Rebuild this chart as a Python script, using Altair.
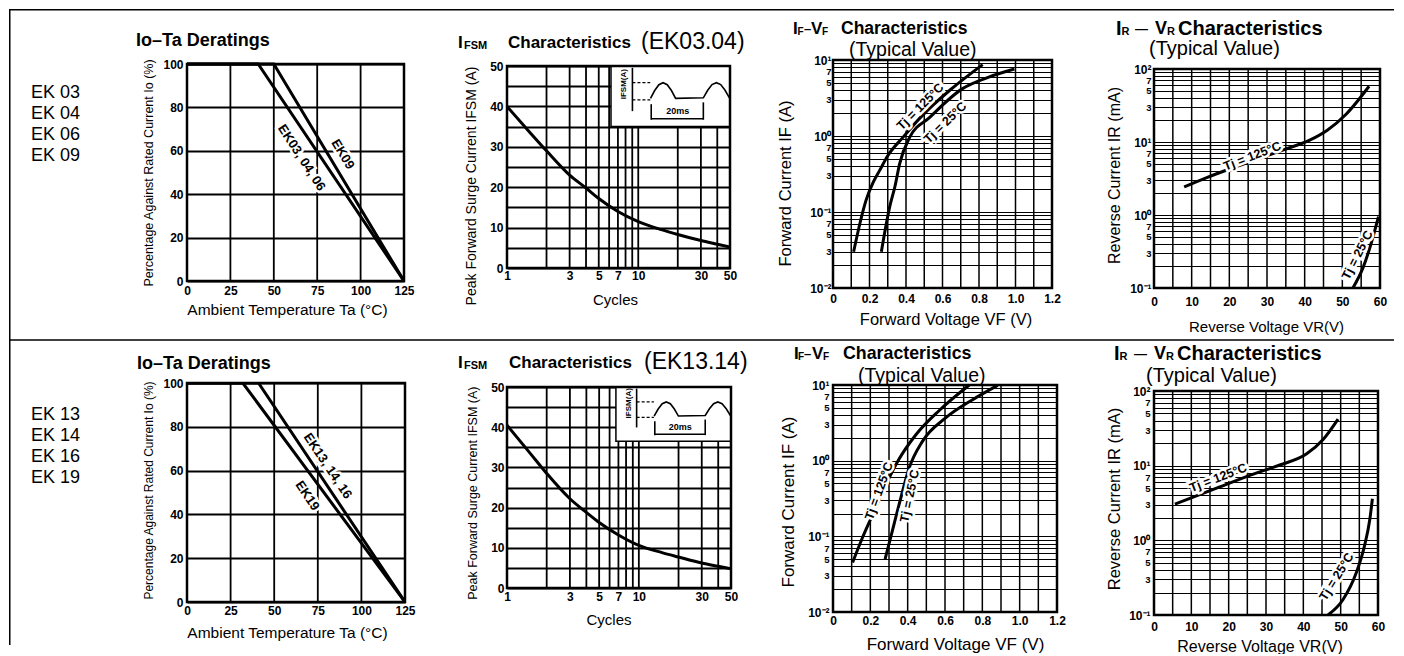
import math
import altair as alt
import pandas as pd

FONT = "Liberation Sans"
ORIGIN = 8           # page pixel where the chart's own (0, 0) lands
DUMMY = pd.DataFrame({"d": [0]})

# ---------------- data ----------------
row1_models = ["EK 03", "EK 04", "EK 06", "EK 09"]
row2_models = ["EK 13", "EK 14", "EK 16", "EK 19"]

# Io - Ta deratings (ambient temperature degC, percentage of rated current)
der1_ek03_ta = [0, 41, 125]
der1_ek03_io = [100, 100, 0]
der1_ek09_ta = [0, 50, 125]
der1_ek09_io = [100, 100, 0]
der2_ek13_ta = [0, 41, 125]
der2_ek13_io = [100, 100, 0]
der2_ek19_ta = [0, 32, 125]
der2_ek19_io = [100, 100, 0]

# IFSM characteristics (cycles, amps)
ifsm_cycles = [1, 1.5, 2, 3, 4, 5, 7, 10, 15, 20, 30, 40, 50]
ifsm1_amps = [40, 33.5, 29, 23, 19.8, 17.2, 14, 11.5, 9.5, 8.3, 6.8, 5.9, 5.2]
ifsm2_amps = [40.5, 33.5, 28.5, 22.2, 18.8, 16.3, 13.2, 10.6, 8.8, 7.7, 6.2, 5.4, 4.8]

# IF - VF (volts, amps)
ifvf1_t125_vf = [0.113, 0.15, 0.18, 0.22, 0.255, 0.3, 0.383, 0.49, 0.64, 0.82]
ifvf1_t125_if = [0.03, 0.075, 0.14, 0.245, 0.35, 0.55, 0.96, 1.87, 4.0, 8.7]
ifvf1_t25_vf = [0.265, 0.29, 0.31, 0.34, 0.365, 0.42, 0.53, 0.71, 0.85, 0.994]
ifvf1_t25_if = [0.03, 0.066, 0.115, 0.22, 0.43, 0.96, 1.76, 4.2, 5.9, 7.6]
ifvf2_t125_vf = [0.105, 0.157, 0.211, 0.283, 0.354, 0.444, 0.569, 0.73]
ifvf2_t125_if = [0.045, 0.095, 0.19, 0.48, 1.05, 2.2, 4.6, 10]
ifvf2_t25_vf = [0.279, 0.318, 0.363, 0.408, 0.479, 0.605, 0.748, 0.882]
ifvf2_t25_if = [0.05, 0.118, 0.32, 0.8, 1.8, 3.7, 6.4, 9.9]

# IR - VR (volts, mA)
irvr1_t125_vr = [8, 14, 20.8, 27, 34, 41.2, 46, 51, 57.1]
irvr1_t125_ir = [2.42, 3.25, 4.4, 5.7, 7.7, 10.5, 14.5, 24, 58]
irvr1_t25_vr = [52.8, 55.5, 57.6, 59.6]
irvr1_t25_ir = [0.1, 0.19, 0.4, 0.95]
irvr2_t125_vr = [5.6, 15.9, 26.6, 33.7, 40.8, 45.3, 49.3]
irvr2_t125_ir = [3.05, 4.8, 7.7, 10.2, 14.3, 22.4, 42]
irvr2_t25_vr = [46.6, 50.6, 54.2, 56.4, 57.8, 58.5]
irvr2_t25_ir = [0.1, 0.16, 0.37, 0.85, 1.9, 3.6]

# waveform sketch boxes in the IFSM charts (cycles from/to, amps from/to)
sketch_box1 = [6.2, 50, 35, 50]
sketch_box2 = [6.7, 50, 36.5, 50]
sketch_hump = [0, 0.5, 0.87, 1.0, 0.87, 0.5, 0]

# ---------------- layout (page pixels: left, top, width, height of plot areas) ----------------
GEOM = {
    "P1": (186, 63, 217, 217), "P2": (506, 65, 223, 202),
    "P3": (832, 59, 219, 228), "P4": (1153, 68, 226, 219),
    "Q1": (186, 382, 218, 219), "Q2": (506, 386, 224, 201),
    "Q3": (832, 384, 224, 227), "Q4": (1153, 390, 224, 224),
}
ROW1_TOP = 59
ROW2_TOP = 382
ROW1_H = max(GEOM[k][1] - ROW1_TOP + GEOM[k][3] for k in ("P1", "P2", "P3", "P4"))
SEPARATOR_Y = 339

SUP = str.maketrans("-0123456789", "⁻⁰¹²³⁴⁵⁶⁷⁸⁹")


def clean(v):
    v = round(v, 6)
    return int(v) if float(v).is_integer() else v


def js_num(v):
    return str(int(v)) if float(v).is_integer() else repr(float(v))


def log_ticks(e0, e1):
    vals, labs, decs = [], [], []
    for e in range(e0, e1):
        for m in range(1, 10):
            v = clean(m * 10.0 ** e)
            vals.append(v)
            if m == 1:
                labs.append("10" + str(e).translate(SUP))
                decs.append(v)
            elif m in (3, 5, 7):
                labs.append(str(m))
            else:
                labs.append("")
    v = clean(10.0 ** e1)
    vals.append(v)
    labs.append("10" + str(e1).translate(SUP))
    decs.append(v)
    return vals, labs, decs


def make_axis(kind, values, labels, title, tpos, tsize, lpad, lsize, gwidth, decades=None, small=None):
    vjs = "[" + ",".join(js_num(v) for v in values) + "]"
    ljs = "[" + ",".join("'" + s + "'" for s in labels) + "]"
    if decades:
        lfs = {"condition": {"test": "indexof([" + ",".join(js_num(v) for v in decades) + "], datum.value) >= 0",
                             "value": lsize}, "value": small}
    else:
        lfs = lsize
    return dict(values=values, labelExpr=f"{ljs}[indexof({vjs}, datum.value)]",
                title=title, titleX=tpos[0], titleY=tpos[1],
                titleAngle=0 if kind == "x" else 270, titleAlign="center", titleBaseline="middle",
                titleFont=FONT, titleFontSize=tsize, titleFontWeight="normal", titleColor="black",
                labelFont=FONT, labelFontSize=lfs, labelFontWeight="bold", labelColor="black",
                labelPadding=lpad, labelOverlap=False, labelFlush=False,
                ticks=False, domain=False, grid=(kind == "y"), gridColor="black", gridOpacity=1,
                gridWidth=gwidth)


def sketch_layers(box, X, Y):
    x0, x1, y0, y1 = box
    L0, L1 = math.log10(x0), math.log10(x1)

    def pt(u, v):
        return 10 ** (L0 + u * (L1 - L0)), y1 - v * (y1 - y0)

    out = []
    rect = pd.DataFrame({"x": [x0], "x2": [x1], "y": [y0], "y2": [y1]})
    out.append(alt.Chart(rect).mark_rect(fill="white", stroke="black", strokeWidth=1.5)
               .encode(x=X, x2="x2:Q", y=Y, y2="y2:Q"))
    n = len(sketch_hump)
    wave = []
    for i, s in enumerate(sketch_hump):
        wave.append((0.332 + (0.543 - 0.332) * i / (n - 1), 0.535 - s * 0.26))
    for i, s in enumerate(sketch_hump):
        wave.append((0.776 + (0.995 - 0.776) * i / (n - 1), 0.525 - s * 0.25))
    segs = {
        "axis": [(0.18, 0.03), (0.18, 0.745)],
        "wave": wave,
        "tick1": [(0.338, 0.63), (0.338, 0.887)],
        "tick2": [(0.776, 0.60), (0.776, 0.887)],
        "span": [(0.338, 0.87), (0.776, 0.87)],
    }
    rows = []
    for g, pts in segs.items():
        for o, (u, v) in enumerate(pts):
            x, y = pt(u, v)
            rows.append({"x": x, "y": y, "g": g, "o": o})
    out.append(alt.Chart(pd.DataFrame(rows)).mark_line(color="black", strokeWidth=1.6)
               .encode(x=X, y=Y, detail="g:N", order="o:Q"))
    drows = []
    for g, v in (("d1", 0.274), ("d2", 0.56)):
        for o, u in enumerate((0.18, 0.33)):
            x, y = pt(u, v)
            drows.append({"x": x, "y": y, "g": g, "o": o})
    out.append(alt.Chart(pd.DataFrame(drows)).mark_line(color="black", strokeWidth=1.3, strokeDash=[3, 2])
               .encode(x=X, y=Y, detail="g:N", order="o:Q"))
    ax, ay = pt(0.56, 0.74)
    out.append(alt.Chart(pd.DataFrame({"x": [ax], "y": [ay], "t": ["20ms"]}))
               .mark_text(font=FONT, fontSize=9, fontWeight="bold", fill="black")
               .encode(x=X, y=Y, text="t:N"))
    bx, by = pt(0.11, 0.3)
    out.append(alt.Chart(pd.DataFrame({"x": [bx], "y": [by], "t": ["IFSM(A)"]}))
               .mark_text(font=FONT, fontSize=8, fontWeight="bold", fill="black", angle=270)
               .encode(x=X, y=Y, text="t:N"))
    return out


NOVIEW = alt.ViewBackground(stroke="transparent", strokeWidth=0)


def build_panel(name, row_top, xdom, ydom, ylog, xlog, xax, yax, xgrid, gw, curves, notes, title_segs,
                sketch=None):
    l, t, w, h = GEOM[name]
    d = t - row_top                    # offset of the plot area inside its grid cell
    H = d + h
    yax = dict(yax)
    yax["titleY"] = yax["titleY"] + d
    xsc = alt.Scale(type="log", domain=xdom, nice=False) if xlog else alt.Scale(domain=xdom, nice=False, zero=False)
    if ylog:
        ysc = alt.Scale(type="log", domain=ydom, nice=False, range=[H, d])
    else:
        ysc = alt.Scale(domain=ydom, nice=False, zero=False, range=[H, d])
    X = alt.X("x:Q", scale=xsc, axis=alt.Axis(**xax))
    Y = alt.Y("y:Q", scale=ysc, axis=alt.Axis(**yax))
    layers = []
    # vertical grid lines
    gdf = pd.DataFrame({"x": xgrid, "y": [ydom[0]] * len(xgrid), "y2": [ydom[1]] * len(xgrid)})
    layers.append(alt.Chart(gdf).mark_rule(color="black", strokeWidth=gw).encode(x=X, y=Y, y2="y2:Q"))
    for xs, ys, interp in curves:
        layers.append(alt.Chart(pd.DataFrame({"x": xs, "y": ys}))
                      .mark_line(color="black", strokeWidth=3, interpolate=interp, clip=True)
                      .encode(x=X, y=Y))
    if sketch is not None:
        layers += sketch_layers(sketch, X, Y)
    # plot frame
    fdf = pd.DataFrame({"x": [xdom[0]], "x2": [xdom[1]], "y": [ydom[0]], "y2": [ydom[1]]})
    layers.append(alt.Chart(fdf).mark_rect(fill="transparent", stroke="black", strokeWidth=2.5)
                  .encode(x=X, x2="x2:Q", y=Y, y2="y2:Q"))
    for (x, y, s, ang, size) in notes:
        df = pd.DataFrame({"x": [x], "y": [y], "t": [s]})
        layers.append(alt.Chart(df).mark_text(angle=ang, fontSize=size, font=FONT, fontWeight="bold",
                                               fill="white", stroke="white", strokeWidth=5)
                      .encode(x=X, y=Y, text="t:N"))
        layers.append(alt.Chart(df).mark_text(angle=ang, fontSize=size, font=FONT, fontWeight="bold",
                                               fill="black")
                      .encode(x=X, y=Y, text="t:N"))
    for (s, dx, dy, size, weight) in title_segs:
        layers.append(alt.Chart(DUMMY).mark_text(text=s, x=dx, y=dy + d, fontSize=size, fontWeight=weight,
                                                 font=FONT, align="left", baseline="middle", fill="black"))
    return alt.layer(*layers).properties(width=w, height=H, view=NOVIEW)


def spacer(w, h):
    return alt.Chart(DUMMY).mark_text(text="", x=1, y=1, fontSize=1, align="left",
                                      baseline="top").properties(width=w, height=h, view=NOVIEW)


# ---------------- axes ----------------
der_x_vals = [0, 25, 50, 75, 100, 125]
der_x_labs = ["0", "25", "50", "75", "100", "125"]
der_y_vals = [0, 20, 40, 60, 80, 100]
der_y_labs = ["0", "20", "40", "60", "80", "100"]

cyc_vals = [1, 2, 3, 4, 5, 6, 7, 8, 9, 10, 20, 30, 40, 50]
cyc_labs = ["1", "", "3", "", "5", "", "7", "", "", "10", "", "30", "", "50"]
amp_vals = [0, 5, 10, 15, 20, 25, 30, 35, 40, 45, 50]
amp_labs = ["0", "", "10", "", "20", "", "30", "", "40", "", "50"]

vf_vals = [clean(i * 0.1) for i in range(13)]
vf_labs = ["0", "", "0.2", "", "0.4", "", "0.6", "", "0.8", "", "1.0", "", "1.2"]
if_vals, if_labs, if_decs = log_ticks(-2, 1)

vr_vals = list(range(0, 65, 5))
vr_labs = [str(v) if v % 10 == 0 else "" for v in vr_vals]
ir_vals, ir_labs, ir_decs = log_ticks(-1, 2)

B, N = "bold", "normal"

# ---------------- panels ----------------
P1 = build_panel(
    "P1", ROW1_TOP, [0, 125], [0, 100], False, False,
    make_axis("x", der_x_vals, der_x_labs, "Ambient Temperature Ta (°C)", (100, 28), 15.5, 4, 12, 1.8),
    make_axis("y", der_y_vals, der_y_labs, "Percentage Against Rated Current  Io (%)", (-39, 108.5), 12.5, 4, 12, 1.8),
    der_x_vals, 1.8,
    [(der1_ek03_ta, der1_ek03_io, "linear"), (der1_ek09_ta, der1_ek09_io, "linear")],
    [(66, 56.8, "EK03, 04, 06", 57, 13), (89.7, 58.4, "EK09", 59, 13)],
    [("Io–Ta Deratings", -51, -23, 18, B)],
)
Q1 = build_panel(
    "Q1", ROW2_TOP, [0, 125], [0, 100], False, False,
    make_axis("x", der_x_vals, der_x_labs, "Ambient Temperature Ta (°C)", (100, 30.7), 15.5, 3, 12, 1.8),
    make_axis("y", der_y_vals, der_y_labs, "Percentage Against Rated Current  Io (%)", (-39, 107), 12, 4, 12, 1.8),
    der_x_vals, 1.8,
    [(der2_ek13_ta, der2_ek13_io, "linear"), (der2_ek19_ta, der2_ek19_io, "linear")],
    [(80.7, 62.1, "EK13, 14, 16", 56, 13), (69, 48.5, "EK19", 56, 13)],
    [("Io–Ta Deratings", -50, -18.7, 18, B)],
)
P2 = build_panel(
    "P2", ROW1_TOP, [1, 50], [0, 50], False, True,
    make_axis("x", cyc_vals, cyc_labs, "Cycles", (108, 31), 15, 2, 12, 1.8),
    make_axis("y", amp_vals, amp_labs, "Peak Forward Surge Current IFSM (A)", (-36, 119.5), 14, 4, 12, 1.8),
    cyc_vals, 1.8,
    [(ifsm_cycles, ifsm1_amps, "monotone")],
    [],
    [("I", -49, -23, 17, B), ("FSM", -43, -20, 11, B), ("Characteristics", 1, -23, 17, B),
     ("(EK03.04)", 134, -24, 23, N)],
    sketch=sketch_box1,
)
Q2 = build_panel(
    "Q2", ROW2_TOP, [1, 50], [0, 50], False, True,
    make_axis("x", cyc_vals, cyc_labs, "Cycles", (101.5, 31), 15, 3.5, 12, 1.8),
    make_axis("y", amp_vals, amp_labs, "Peak Forward Surge Current IFSM (A)", (-35, 105.7), 12.5, 3, 12, 1.8),
    cyc_vals, 1.8,
    [(ifsm_cycles, ifsm2_amps, "monotone")],
    [],
    [("I", -49, -24.3, 17, B), ("FSM", -43, -21.3, 11, B), ("Characteristics", 2, -24.3, 17, B),
     ("(EK13.14)", 137, -25, 23, N)],
    sketch=sketch_box2,
)
P3 = build_panel(
    "P3", ROW1_TOP, [0, 1.2], [0.01, 10], True, False,
    make_axis("x", vf_vals, vf_labs, "Forward Voltage VF (V)", (112.5, 31), 16.5, 5, 12, 1.5),
    make_axis("y", if_vals, if_labs, "Forward Current IF (A)", (-48, 123), 16.5, 2, 12, 1.2, if_decs, 9.5),
    vf_vals, 1.5,
    [(ifvf1_t125_vf, ifvf1_t125_if, "monotone"), (ifvf1_t25_vf, ifvf1_t25_if, "monotone")],
    [(0.478, 2.43, "Tj = 125°C", 315, 12.5), (0.615, 1.5, "Tj = 25°C", 316, 12.5)],
    [("I", -40, -31, 17, B), ("F", -35.5, -28, 10, B), ("–", -29, -31, 13, B), ("V", -22, -31, 17, B),
     ("F", -11, -28, 10, B), ("Characteristics", 8, -31, 17.5, B), ("(Typical Value)", 16, -10.5, 19.5, N)],
)
Q3 = build_panel(
    "Q3", ROW2_TOP, [0, 1.2], [0.01, 10], True, False,
    make_axis("x", vf_vals, vf_labs, "Forward Voltage VF (V)", (122, 32), 17, 3.5, 12, 1.5),
    make_axis("y", if_vals, if_labs, "Forward Current IF (A)", (-45, 116.5), 17, 4, 12, 1.2, if_decs, 9.5),
    vf_vals, 1.5,
    [(ifvf2_t125_vf, ifvf2_t125_if, "monotone"), (ifvf2_t25_vf, ifvf2_t25_if, "monotone")],
    [(0.246, 0.397, "Tj = 125°C", 290, 12.5), (0.411, 0.341, "Tj = 25°C", 282, 12.5)],
    [("I", -39, -30.7, 17, B), ("F", -35, -27.7, 10, B), ("–", -29, -30.7, 13, B), ("V", -21, -30.7, 17, B),
     ("F", -10, -27.7, 10, B), ("Characteristics", 10, -30.7, 17.8, B), ("(Typical Value)", 25, -9, 19.5, N)],
)
P4 = build_panel(
    "P4", ROW1_TOP, [0, 60], [0.1, 100], True, False,
    make_axis("x", vr_vals, vr_labs, "Reverse Voltage VR(V)", (112, 38), 15, 8, 12, 1.5),
    make_axis("y", ir_vals, ir_labs, "Reverse Current IR (mA)", (-40, 106), 16, 3, 12, 1.2, ir_decs, 9.5),
    vr_vals, 1.5,
    [(irvr1_t125_vr, irvr1_t125_ir, "monotone"), (irvr1_t25_vr, irvr1_t25_ir, "monotone")],
    [(26.1, 6.4, "Tj = 125°C", 339, 12.5), (54, 0.283, "Tj = 25°C", 297, 12.5)],
    [("I", -38, -40, 20, B), ("R", -32.5, -37, 11, B), ("—", -19, -40, 13, B), ("V", 1, -40, 18, B),
     ("R", 13, -37, 11, B), ("Characteristics", 24, -40, 20, B), ("(Typical Value)", -5, -20, 20, N)],
)
Q4 = build_panel(
    "Q4", ROW2_TOP, [0, 60], [0.1, 100], True, False,
    make_axis("x", vr_vals, vr_labs, "Reverse Voltage VR(V)", (105.5, 31), 16, 6.5, 12, 1.5),
    make_axis("y", ir_vals, ir_labs, "Reverse Current IR (mA)", (-40, 107.5), 16.5, 4, 12, 1.2, ir_decs, 9.5),
    vr_vals, 1.5,
    [(irvr2_t125_vr, irvr2_t125_ir, "monotone"), (irvr2_t25_vr, irvr2_t25_ir, "monotone")],
    [(17.2, 6.9, "Tj = 125°C", 339, 12.5), (48.9, 0.326, "Tj = 25°C", 302, 12.5)],
    [("I", -40, -36.7, 20, B), ("R", -34.5, -33.7, 11, B), ("—", -20, -36.7, 13, B), ("V", 0, -36.7, 18, B),
     ("R", 12, -33.7, 11, B), ("Characteristics", 23, -36.7, 20, B), ("(Typical Value)", -8, -15, 20, N)],
)

# ---------------- label column and frame lines ----------------
LABEL_W = GEOM["P1"][0] - ORIGIN
RULE_RIGHT = 1385


def hrule(y):
    return alt.Chart(DUMMY).mark_rule(color="black", strokeWidth=1.5).encode(
        x=alt.value(0), x2=alt.value(RULE_RIGHT), y=alt.value(y))


top_cell = alt.layer(
    hrule(0.75),
    alt.Chart(DUMMY).mark_rule(color="black", strokeWidth=1.5).encode(
        x=alt.value(0.75), y=alt.value(0), y2=alt.value(636)),
).properties(width=LABEL_W, height=ROW1_TOP - ORIGIN, view=NOVIEW)

mid_cell = alt.layer(hrule(SEPARATOR_Y - (ROW1_TOP + ROW1_H))).properties(
    width=LABEL_W, height=ROW2_TOP - (ROW1_TOP + ROW1_H), view=NOVIEW)


def label_cell(models, h, first_y):
    return alt.Chart(DUMMY).mark_text(text=models, x=22, y=first_y, fontSize=18, font=FONT,
                                      align="left", baseline="middle", lineHeight=21,
                                      fill="black").properties(width=LABEL_W, height=h, view=NOVIEW)


label1 = label_cell(row1_models, ROW1_H, 92 - ROW1_TOP)
label2 = label_cell(row2_models, 200, 414 - ROW2_TOP)

tops = [P1, P2, P3, P4]
bots = [Q1, Q2, Q3, Q4]
lefts = [GEOM["P1"][0], GEOM["P2"][0], GEOM["P3"][0], GEOM["P4"][0]]
widths = [max(GEOM["P%d" % (k + 1)][2], GEOM["Q%d" % (k + 1)][2]) for k in range(4)]
gaps = [lefts[k + 1] - (lefts[k] + widths[k]) for k in range(3)]

items = []
# row 0
items.append(top_cell)
for k in range(4):
    items.append(spacer(1, 1))
    if k < 3:
        items.append(spacer(1, 1))
# row 1
items.append(label1)
for k in range(4):
    items.append(tops[k])
    if k < 3:
        items.append(spacer(gaps[k], 1))
# row 2
items.append(mid_cell)
for k in range(4):
    items.append(spacer(1, 1))
    if k < 3:
        items.append(spacer(1, 1))
# row 3
items.append(label2)
for k in range(4):
    items.append(bots[k])
    if k < 3:
        items.append(spacer(gaps[k], 1))

chart = (
    alt.concat(*items, columns=8, bounds="flush", spacing=0)
    .properties(padding=0)
    .configure_view(stroke="transparent", strokeWidth=0)
    .configure(font=FONT)
)

chart.save("out.html", embed_options={"renderer": "svg", "actions": False})
